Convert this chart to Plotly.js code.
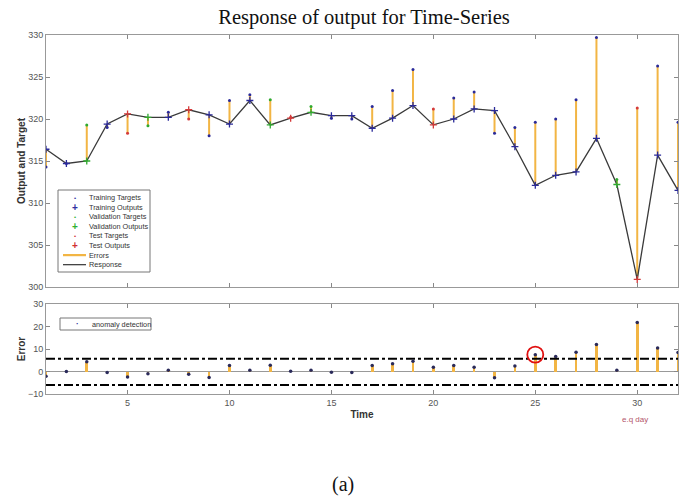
<!DOCTYPE html>
<html>
<head>
<meta charset="utf-8">
<script src="https://cdn.plot.ly/plotly-3.0.1.min.js"></script>
<style>html,body{margin:0;padding:0;background:#fff;}#chart{width:687px;height:502px;}</style>
</head>
<body>
<div id="chart"></div>
<script>
// ---- data ----
const time = [1,2,3,4,5,6,7,8,9,10,11,12,13,14,15,16,17,18,19,20,21,22,23,24,25,26,27,28,29,30,31,32];
const responseOut = [316.4,314.7,315.0,319.4,320.6,320.2,320.2,321.1,320.5,319.4,322.2,319.3,320.1,320.8,320.4,320.4,318.9,320.1,321.6,319.3,320.0,321.2,321.0,316.7,312.1,313.3,313.7,317.7,312.2,300.9,315.7,311.5];
const targets = [314.3,314.7,319.3,319.0,318.3,319.2,320.8,320.0,318.0,322.2,322.9,322.3,320.2,321.5,320.1,320.0,321.5,323.4,325.9,321.2,322.5,323.2,318.3,319.0,319.6,320.0,322.3,329.7,312.8,321.3,326.3,319.6];
const sets = ['train','train','val','train','test','val','train','test','train','train','train','val','test','val','train','train','train','train','train','test','train','train','train','train','train','train','train','train','val','test','train','train'];
const errorVals = [-2.1,0.0,4.3,-0.4,-2.4,-1.0,0.6,-1.2,-2.7,2.7,0.6,2.8,0.1,0.6,-0.3,-0.4,2.7,3.5,4.6,1.9,2.7,1.9,-2.8,2.4,7.5,6.7,8.6,12.0,0.6,21.8,10.5,8.4];
const upperThreshold = 5.7;
const lowerThreshold = -6.0;
const anomalyTime = [25];
const xTicks = [5,10,15,20,25,30];
const legendLabels = ['Training Targets','Training Outputs','Validation Targets','Validation Outputs','Test Targets','Test Outputs','Errors','Response'];
const legendKinds = ['dot','plus','dot','plus','dot','plus','line','line'];
const legendColors = ['#3030a0','#3030a0','#30b030','#30b030','#d03030','#d03030','#f2b544','#333333'];
const setNames = ['train','val','test'];
const setColors = {train:'#2a2a9a', val:'#2faa2f', test:'#d43a3a'};

// ---- traces ----
const traces = [];
const ex = [], ey = [];
time.forEach((t,i)=>{ ex.push(t,t,null); ey.push(responseOut[i], targets[i], null); });
traces.push({x:ex, y:ey, mode:'lines', line:{color:'#f2b544', width:2}, xaxis:'x', yaxis:'y', hoverinfo:'skip'});
traces.push({x:time, y:responseOut, mode:'lines', line:{color:'#3a3a3a', width:1.3}, xaxis:'x', yaxis:'y'});
setNames.forEach(s=>{
  const idx = time.map((t,i)=>i).filter(i=>sets[i]===s);
  traces.push({x:idx.map(i=>time[i]), y:idx.map(i=>targets[i]), mode:'markers',
    marker:{symbol:'circle', size:3, color:setColors[s]}, xaxis:'x', yaxis:'y'});
  traces.push({x:idx.map(i=>time[i]), y:idx.map(i=>responseOut[i]), mode:'markers',
    marker:{symbol:'cross-thin', size:5, line:{width:1.3, color:setColors[s]}, color:setColors[s]}, xaxis:'x', yaxis:'y'});
});
traces.push({type:'bar', x:time, y:errorVals, width:0.13, marker:{color:'#f2b544', line:{width:0}}, xaxis:'x2', yaxis:'y2'});
traces.push({x:[time[0], time[time.length-1]], y:[upperThreshold, upperThreshold], mode:'lines', line:{color:'#000', width:2, dash:'dashdot'}, xaxis:'x2', yaxis:'y2'});
traces.push({x:[time[0], time[time.length-1]], y:[lowerThreshold, lowerThreshold], mode:'lines', line:{color:'#000', width:2, dash:'dashdot'}, xaxis:'x2', yaxis:'y2'});
traces.push({x:time, y:errorVals, mode:'markers', marker:{symbol:'circle', size:3.5, color:'#2a2a5a'}, xaxis:'x2', yaxis:'y2'});
traces.push({x:anomalyTime, y:anomalyTime.map(t=>errorVals[time.indexOf(t)]), mode:'markers',
  marker:{symbol:'circle-open', size:16, color:'#e01010', line:{width:1.8, color:'#e01010'}}, xaxis:'x2', yaxis:'y2'});

// ---- layout helpers ----
const L = 46, R = 678, T = 35, B = 394;
const px = v => (v - L) / (R - L);
const py = v => (B - v) / (B - T);

const shapes = [];
const annotations = [];
shapes.push({type:'rect', xref:'paper', yref:'paper', x0:px(58), x1:px(150), y0:py(272), y1:py(190), line:{color:'#777', width:1}, fillcolor:'#fff', layer:'above'});
legendLabels.forEach((lab,i)=>{
  const yc = 197.7 + i*9.57;
  const k = legendKinds[i];
  if (k === 'line') {
    shapes.push({type:'line', xref:'paper', yref:'paper', x0:px(63), x1:px(86), y0:py(yc), y1:py(yc), line:{color:legendColors[i], width: i===6 ? 2.2 : 1.2}, layer:'above'});
  } else {
    annotations.push({xref:'paper', yref:'paper', x:px(75), y:py(yc), text: k==='dot' ? '•' : '<b>+</b>', showarrow:false,
      font:{size: k==='dot' ? 6 : 10, color:legendColors[i], family:'Liberation Sans, Arial'}, xanchor:'center', yanchor:'middle'});
  }
  annotations.push({xref:'paper', yref:'paper', x:px(87), y:py(yc), text:lab, showarrow:false, xanchor:'left', yanchor:'middle',
    font:{size:7.3, color:'#333', family:'Liberation Sans, Arial'}});
});
shapes.push({type:'rect', xref:'paper', yref:'paper', x0:px(60), x1:px(151), y0:py(330), y1:py(318), line:{color:'#777', width:1}, fillcolor:'#fff', layer:'above'});
annotations.push({xref:'paper', yref:'paper', x:px(77), y:py(324), text:'•', showarrow:false, xanchor:'center', yanchor:'middle', font:{size:6, color:'#2a2a9a'}});
annotations.push({xref:'paper', yref:'paper', x:px(90), y:py(324), text:'anomaly detection', showarrow:false, xanchor:'left', yanchor:'middle', font:{size:7.3, color:'#333', family:'Liberation Sans, Arial'}});
annotations.push({xref:'paper', yref:'paper', x:px(635), y:py(419), text:'e.q day', showarrow:false, xanchor:'center', yanchor:'middle', font:{size:8, color:'#b4566a', family:'Liberation Sans, Arial'}});
annotations.push({xref:'paper', yref:'paper', x:px(343), y:py(484), text:'(a)', showarrow:false, xanchor:'center', yanchor:'middle', font:{size:20, color:'#111', family:'Liberation Serif, Times New Roman, serif'}});

const axisCommon = {showline:true, mirror:'ticks', linecolor:'#999', linewidth:1, ticks:'inside', ticklen:4, tickcolor:'#888',
  showgrid:false, zeroline:false, tickfont:{size:9, color:'#555', family:'Liberation Sans, Arial'}};

const layout = {
  width:687, height:502,
  margin:{l:L, r:687-R, t:T, b:502-B, pad:0},
  paper_bgcolor:'#fff', plot_bgcolor:'#fff',
  showlegend:false,
  title:{text:'Response of output for Time-Series', x:364/687, xanchor:'center', y:1-17/502, yanchor:'middle',
    font:{family:'Liberation Serif, Times New Roman, serif', size:20.5, color:'#111'}},
  xaxis:Object.assign({}, axisCommon, {domain:[0,1], range:[1,32], tickvals:xTicks, showticklabels:false, anchor:'y'}),
  yaxis:Object.assign({}, axisCommon, {domain:[py(287),1], range:[300,330], dtick:5, anchor:'x',
    title:{text:'<b>Output and Target</b>', font:{size:10, color:'#333', family:'Liberation Sans, Arial'}, standoff:0}}),
  xaxis2:Object.assign({}, axisCommon, {domain:[0,1], range:[1,32], tickvals:xTicks, anchor:'y2',
    title:{text:'<b>Time</b>', font:{size:10, color:'#333', family:'Liberation Sans, Arial'}, standoff:4}}),
  yaxis2:Object.assign({}, axisCommon, {domain:[0,py(304)], range:[-10,30], tickvals:[-10,0,10,20,30], anchor:'x2',
    zeroline:true, zerolinecolor:'#999', zerolinewidth:1,
    title:{text:'<b>Error</b>', font:{size:10, color:'#333', family:'Liberation Sans, Arial'}, standoff:0}}),
  shapes:shapes,
  annotations:annotations,
  bargap:0
};

Plotly.newPlot('chart', traces, layout, {displayModeBar:false, staticPlot:true});
</script>
</body>
</html>
